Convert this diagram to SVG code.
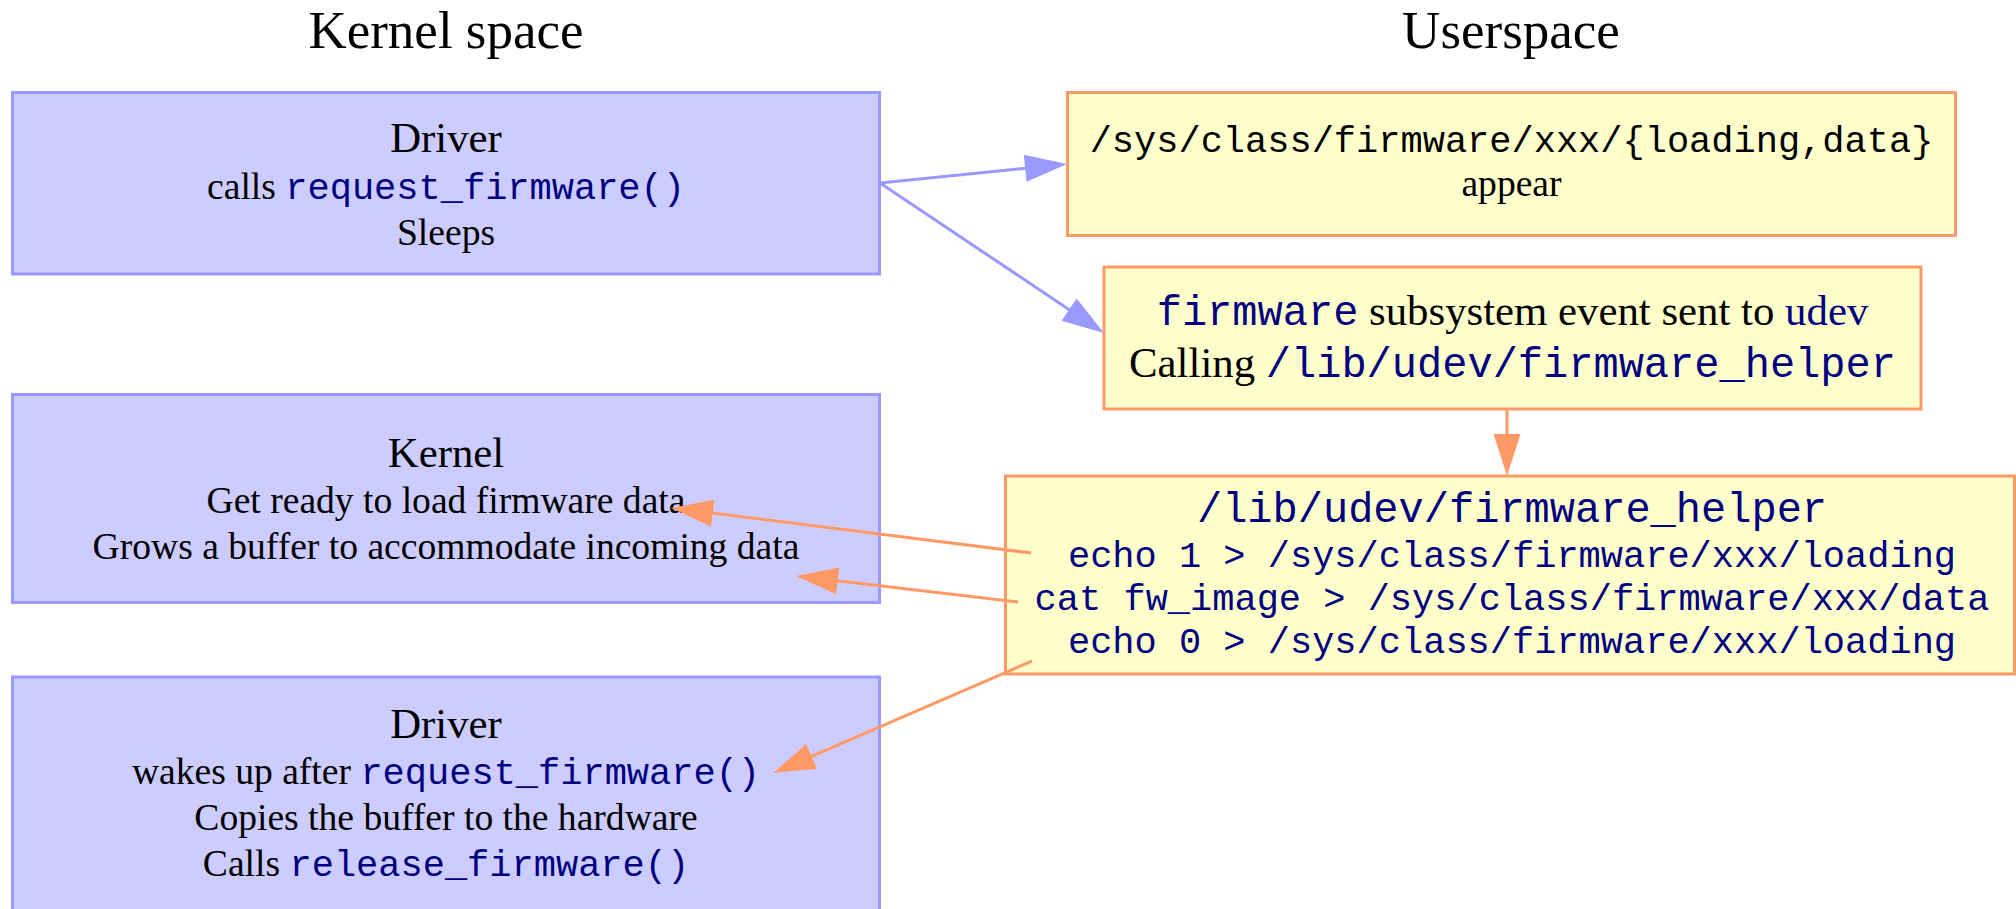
<svg xmlns="http://www.w3.org/2000/svg" width="2016" height="909" viewBox="0 0 2016 909">
<style>
.bg{fill:#ffffff}
.kbox{fill:#ccccff;stroke:#9999ff;stroke-width:3}
.ubox{fill:#ffffcc;stroke:#ff9966;stroke-width:3}
.serif{font-family:"Liberation Serif","Times New Roman",serif;fill:#000000}
.mono{font-family:"Liberation Mono","Courier New",monospace}
.navy{fill:#000080}
.blk{fill:#000000}
.t{text-anchor:middle}
.h{font-size:53px}
.s42{font-size:42.8px}
.m42{font-size:42px}
.s37{font-size:37.6px}
.m37{font-size:37px}
.bl{stroke:#9999ff;stroke-width:3;fill:none}
.bh{fill:#9999ff}
.ol{stroke:#ff9966;stroke-width:3;fill:none}
.oh{fill:#ff9966}
</style>
<rect class="bg" x="0" y="0" width="2016" height="909"/>
<g id="titles">
<text class="serif t h" x="446" y="48">Kernel space</text>
<text class="serif t h" x="1511" y="48">Userspace</text>
</g>
<g id="driver-request">
<rect class="kbox" x="12.5" y="92.5" width="867" height="181.5"/>
<text class="serif t s42" x="446" y="152">Driver</text>
<text class="serif t s37" x="446" y="199">calls <tspan class="mono navy m37">request_firmware()</tspan></text>
<text class="serif t s37" x="446" y="245">Sleeps</text>
</g>
<g id="kernel">
<rect class="kbox" x="12.5" y="394.5" width="867" height="208"/>
<text class="serif t s42" x="446" y="467">Kernel</text>
<text class="serif t s37" x="446" y="513">Get ready to load firmware data</text>
<text class="serif t s37" x="446" y="559">Grows a buffer to accommodate incoming data</text>
</g>
<g id="driver-wakeup">
<rect class="kbox" x="12.5" y="677" width="867" height="245"/>
<text class="serif t s42" x="446" y="738">Driver</text>
<text class="serif t s37" x="446" y="784">wakes up after <tspan class="mono navy m37">request_firmware()</tspan></text>
<text class="serif t s37" x="446" y="830">Copies the buffer to the hardware</text>
<text class="serif t s37" x="446" y="876">Calls <tspan class="mono navy m37">release_firmware()</tspan></text>
</g>
<g id="sysfs-files">
<rect class="ubox" x="1067.5" y="92.5" width="888" height="143"/>
<text class="mono blk t m37" x="1511.5" y="152">/sys/class/firmware/xxx/{loading,data}</text>
<text class="serif t s37" x="1511.5" y="196">appear</text>
</g>
<g id="udev-event">
<rect class="ubox" x="1104" y="267" width="817" height="142"/>
<text class="serif t s42" x="1512.5" y="325"><tspan class="mono navy m42">firmware</tspan> subsystem event sent to <tspan class="navy">udev</tspan></text>
<text class="serif t s42" x="1512.5" y="377">Calling <tspan class="mono navy m42">/lib/udev/firmware_helper</tspan></text>
</g>
<g id="firmware-helper">
<rect class="ubox" x="1005.5" y="476" width="1009" height="198"/>
<text class="mono navy t m42" x="1512" y="522">/lib/udev/firmware_helper</text>
<text class="mono navy t m37" x="1512" y="567">echo 1 &gt; /sys/class/firmware/xxx/loading</text>
<text class="mono navy t m37" x="1512" y="610">cat fw_image &gt; /sys/class/firmware/xxx/data</text>
<text class="mono navy t m37" x="1512" y="653">echo 0 &gt; /sys/class/firmware/xxx/loading</text>
</g>
<g id="connectors">
<line class="bl" x1="880" y1="183" x2="1026" y2="168.3"/>
<polygon class="bh" points="1067,164 1026.6,181.7 1023.8,154.8"/>
<line class="bl" x1="880" y1="183" x2="1070" y2="310.2"/>
<polygon class="bh" points="1104,333 1061.6,320.8 1076.6,298.4"/>
<line class="ol" x1="1507" y1="409" x2="1507" y2="435"/>
<polygon class="oh" points="1507,476 1493.5,434 1520.5,434"/>
<line class="ol" x1="1031" y1="553" x2="712" y2="513.1"/>
<polygon class="oh" points="671,508 714.4,499.8 711,526.6"/>
<line class="ol" x1="1018" y1="602" x2="837" y2="580.8"/>
<polygon class="oh" points="796,576 839.3,567.5 836.1,594.3"/>
<line class="ol" x1="1032" y1="661" x2="811" y2="756.6"/>
<polygon class="oh" points="773,773 806.2,743.9 816.9,768.7"/>
</g>
</svg>
